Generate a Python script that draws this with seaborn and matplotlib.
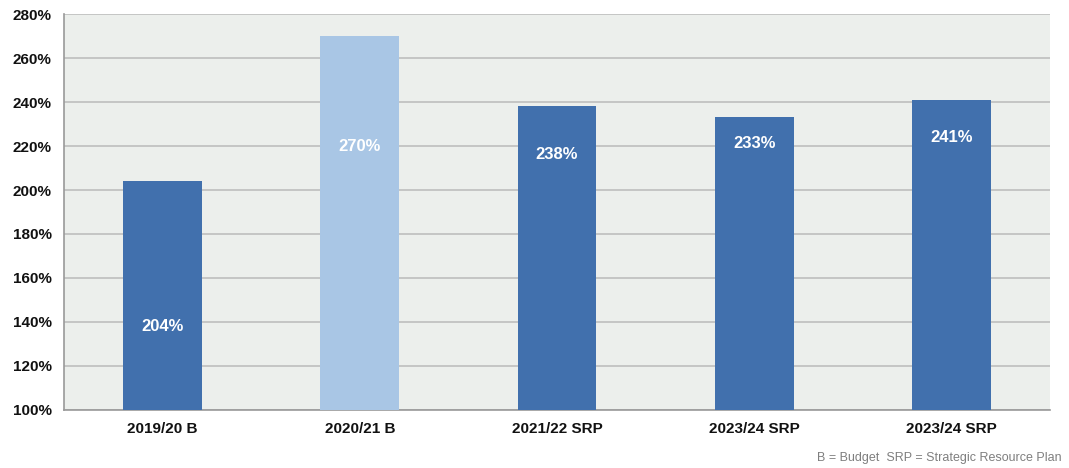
import matplotlib
matplotlib.use("Agg")
import matplotlib.pyplot as plt
import seaborn as sns
import pandas as pd
from matplotlib.ticker import FixedLocator, PercentFormatter

# Working capital ratio by year
years = ["2019/20 B", "2020/21 B", "2021/22 SRP", "2023/24 SRP", "2023/24 SRP "]
ratios = [204, 270, 238, 233, 241]
label_heights = [138, 220, 216, 221, 224]
bar_colors = ["#4170AD", "#A9C6E5", "#4170AD", "#4170AD", "#4170AD"]

y_ticks = [100, 120, 140, 160, 180, 200, 220, 240, 260, 280]

sns.set_theme(style="white")
plt.rcParams["font.family"] = ["Liberation Sans", "DejaVu Sans"]

df = pd.DataFrame({"year": years, "ratio": ratios})

fig = plt.figure(figsize=(10.69, 4.68), dpi=100)
ax = fig.add_axes([0.0599, 0.124, 0.9223, 0.846])
ax.set_facecolor("#ECEFEC")

sns.barplot(data=df, x="year", y="ratio", hue="year", palette=bar_colors,
            legend=False, width=0.4, saturation=1, linewidth=0, ax=ax, zorder=3)

ax.set_ylim(100, 280)
ax.set_xlim(-0.5, len(years) - 0.5)
ax.yaxis.set_major_locator(FixedLocator(y_ticks))
ax.yaxis.set_major_formatter(PercentFormatter(decimals=0))
ax.grid(axis="y", color="#BEBEBE", linewidth=1.2, zorder=0)
ax.set_axisbelow(True)

# Category boundary ticks on the x axis
ax.set_xticks(range(len(years)))
ax.set_xticklabels([y.strip() for y in years], fontweight="bold", fontsize=11,
                   color="#111111")
ax.set_xticks([i - 0.5 for i in range(len(years) + 1)], minor=True)
ax.tick_params(axis="x", which="major", length=0, pad=9)
ax.tick_params(axis="x", which="minor", length=5, color="#888888", direction="out")
ax.tick_params(axis="y", length=4, color="#888888", direction="out", pad=5)
for lbl in ax.get_yticklabels():
    lbl.set_fontweight("bold")
    lbl.set_fontsize(11)
    lbl.set_color("#111111")

for side in ["top", "right"]:
    ax.spines[side].set_visible(False)
for side in ["left", "bottom"]:
    ax.spines[side].set_color("#999999")
    ax.spines[side].set_linewidth(1.2)

ax.set_xlabel("")
ax.set_ylabel("")

for i, (v, h) in enumerate(zip(ratios, label_heights)):
    ax.text(i, h, f"{v}%", ha="center", va="center", color="white",
            fontweight="bold", fontsize=12, zorder=4)

fig.text(0.993, 0.008, "B = Budget  SRP = Strategic Resource Plan", ha="right",
         va="bottom", fontsize=9, color="#7F7F7F")

fig.savefig("out.png", dpi=100, facecolor="white")
